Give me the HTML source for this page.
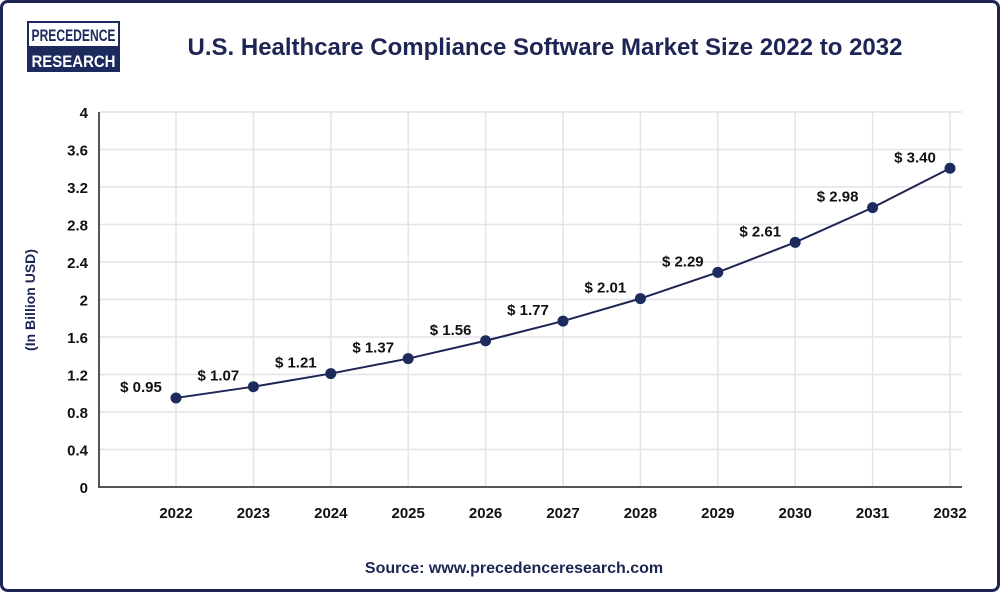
<!DOCTYPE html>
<html><head><meta charset="utf-8"><style>
body{margin:0;background:#fff;}
#wrap{position:relative;width:1000px;height:592px;overflow:hidden;font-family:"Liberation Sans",sans-serif;}
</style></head><body>
<div id="wrap">
<svg id="chart" width="1000" height="592">
<rect x="1.5" y="1.5" width="997" height="589" rx="6" fill="#fff" stroke="#1d2554" stroke-width="3"/>
<g>
<rect x="27" y="21" width="93" height="51" fill="#1d2a5e"/>
<rect x="29" y="23" width="89" height="23" fill="#fff"/>
<text x="73.5" y="41" text-anchor="middle" font-size="17" font-weight="bold" fill="#1d2a5e" textLength="84" lengthAdjust="spacingAndGlyphs">PRECEDENCE</text>
<text x="73.5" y="67" text-anchor="middle" font-size="17" font-weight="bold" fill="#fff" textLength="84" lengthAdjust="spacingAndGlyphs">RESEARCH</text>
</g>
<text x="545" y="55" text-anchor="middle" font-size="24" font-weight="bold" fill="#1d2554">U.S. Healthcare Compliance Software Market Size 2022 to 2032</text>
<g id="grid"></g><g id="axes"></g><g id="series"></g>
<text transform="translate(35,300) rotate(-90)" text-anchor="middle" font-size="14" font-weight="bold" fill="#1d2554">(In Billion USD)</text>
<text x="514" y="573" text-anchor="middle" font-size="16" font-weight="bold" fill="#1d2554">Source: www.precedenceresearch.com</text>
</svg>
</div>
<script>
const categories=["2022","2023","2024","2025","2026","2027","2028","2029","2030","2031","2032"];
const values=[0.95,1.07,1.21,1.37,1.56,1.77,2.01,2.29,2.61,2.98,3.40];
const valueLabels=["$ 0.95","$ 1.07","$ 1.21","$ 1.37","$ 1.56","$ 1.77","$ 2.01","$ 2.29","$ 2.61","$ 2.98","$ 3.40"];
const yTicks=[0,0.4,0.8,1.2,1.6,2,2.4,2.8,3.2,3.6,4];
const yTickLabels=["0","0.4","0.8","1.2","1.6","2","2.4","2.8","3.2","3.6","4"];
const NS="http://www.w3.org/2000/svg";
const X0=176,X1=950,Y0=487,Y1=112,LEFT=99,RIGHT=962;
function xs(i){return X0+(X1-X0)*i/(categories.length-1);}
function ys(v){return Y0-(Y0-Y1)*v/4;}
function mk(tag,attrs,parent,text){const e=document.createElementNS(NS,tag);for(const k in attrs)e.setAttribute(k,attrs[k]);if(text!==undefined)e.textContent=text;parent.appendChild(e);return e;}
const grid=document.getElementById('grid'),axes=document.getElementById('axes'),series=document.getElementById('series');
yTicks.forEach((t,i)=>{
 const l=mk('line',{x1:LEFT,x2:RIGHT,y1:ys(t),y2:ys(t),stroke:'#e4e4e8','stroke-width':1.5},grid);
 
 
 const tx=mk('text',{x:88,y:ys(t)+6,'text-anchor':'end','font-size':15,'font-weight':'bold',fill:'#111'},axes,yTickLabels[i]);
 
 
});
categories.forEach((c,i)=>{
 const l=mk('line',{x1:xs(i),x2:xs(i),y1:Y1,y2:Y0,stroke:'#e4e4e8','stroke-width':1.5},grid);
 
 
 const tx=mk('text',{x:xs(i),y:518,'text-anchor':'middle','font-size':15,'font-weight':'bold',fill:'#111'},axes,c);
 
 
});
const ax=mk('path',{d:`M${LEFT},${Y1} V${Y0} H${RIGHT}`,fill:'none',stroke:'#555','stroke-width':2},axes);


const pts=values.map((v,i)=>xs(i)+','+ys(v)).join(' ');
const pl=mk('polyline',{points:pts,fill:'none',stroke:'#1d2554','stroke-width':2},series);


values.forEach((v,i)=>{
 const c=mk('circle',{cx:xs(i),cy:ys(v),r:5.5,fill:'#1d2a5e'},series);
 
 
 const t=mk('text',{x:xs(i)-35,y:ys(v)-6,'text-anchor':'middle','font-size':15,'font-weight':'bold',fill:'#111'},series,valueLabels[i]);
 
 
});
</script>
</body></html>
